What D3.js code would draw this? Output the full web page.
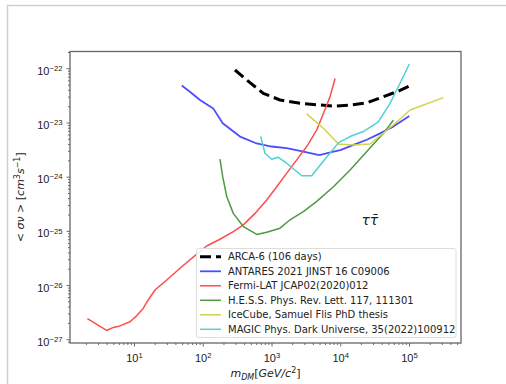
<!DOCTYPE html>
<html>
<head>
<meta charset="utf-8">
<script src="https://cdn.jsdelivr.net/npm/d3@7"></script>
<style>
  body { margin: 0; background: #fff; }
  svg { display: block; font-family: "DejaVu Sans", sans-serif; }
</style>
</head>
<body>
<div id="chart"></div>
<script>
// Limits on <σv> vs dark matter mass, tau-tau channel
const arcaMass = [294, 435, 760, 1330, 2600, 5070, 7950, 13900, 24300, 42400, 74000, 101000];
const arcaSigv = [9.3e-23, 6.1e-23, 3.45e-23, 2.6e-23, 2.26e-23, 2.1e-23, 2.0e-23, 2.1e-23, 2.3e-23, 3.0e-23, 3.9e-23, 4.7e-23];

const antaresMass = [49.5, 65, 91, 142, 195, 348, 610, 1000, 1660, 2600, 4950, 7950, 10000, 15600, 24300, 37900, 59100, 101000];
const antaresSigv = [4.8e-23, 3.7e-23, 2.6e-23, 1.82e-23, 9.7e-24, 5.5e-24, 4.1e-24, 3.6e-24, 3.35e-24, 3.0e-24, 2.5e-24, 2.9e-24, 3.1e-24, 3.85e-24, 4.8e-24, 6.3e-24, 8.4e-24, 1.32e-23];

const fermiMass = [2.1, 4.0, 5.0, 6.25, 8.75, 10.9, 13.6, 16.1, 20.2, 29.9, 46.7, 69, 114, 178, 278, 389, 575, 851, 1190, 1665, 2330, 3250, 4550, 5690, 7100, 8400];
const fermiSigv = [2.4e-27, 1.45e-27, 1.65e-27, 1.76e-27, 2.1e-27, 2.7e-27, 3.7e-27, 5.3e-27, 8.1e-27, 1.24e-26, 2.04e-26, 3.1e-26, 5.25e-26, 7.0e-26, 9.7e-26, 1.29e-25, 2.1e-25, 3.7e-25, 6.5e-25, 1.16e-24, 2.04e-24, 3.6e-24, 7.3e-24, 1.47e-23, 3.0e-23, 6.5e-23];

const hessMass = [178, 195, 223, 278, 389, 610, 851, 1330, 1860, 2900, 4550, 7950, 13900, 24300, 42400, 59100];
const hessSigv = [2.1e-24, 1.0e-24, 4.3e-25, 2.1e-25, 1.2e-25, 8.6e-26, 9.4e-26, 1.12e-25, 1.6e-25, 2.26e-25, 3.5e-25, 6.5e-25, 1.33e-24, 2.9e-24, 6.3e-24, 1.1e-23];

const icecubeMass = [3250, 5690, 9400, 15600, 27100, 59100, 103500, 316000];
const icecubeSigv = [1.44e-23, 7.8e-24, 4.0e-24, 3.85e-24, 4.0e-24, 9.0e-24, 1.7e-23, 2.87e-23];

const magicMass = [697, 804, 1006, 1256, 1665, 2750, 3845, 5375, 9370, 13870, 21660, 35740, 52960, 74000, 101000];
const magicSigv = [5.5e-24, 2.7e-24, 2.1e-24, 2.28e-24, 1.77e-24, 1.04e-24, 1.04e-24, 1.77e-24, 4.2e-24, 5.5e-24, 6.8e-24, 1.03e-23, 2.26e-23, 5.3e-23, 1.2e-22];

const seriesNames = [
  "ARCA-6 (106 days)",
  "ANTARES 2021 JINST 16 C09006",
  "Fermi-LAT JCAP02(2020)012",
  "H.E.S.S. Phys. Rev. Lett. 117, 111301",
  "IceCube, Samuel Flis PhD thesis",
  "MAGIC Phys. Dark Universe, 35(2022)100912"
];

const xTickExps = [1, 2, 3, 4, 5];
const yTickExps = [-22, -23, -24, -25, -26, -27];

const width = 506, height = 384;
const margin = { top: 51.5, right: 45, bottom: 41, left: 70 };

const svg = d3.select("#chart").append("svg")
  .attr("width", width)
  .attr("height", height);

// screenshot frame
svg.append("rect")
  .attr("x", 7.5).attr("y", 5.5)
  .attr("width", width).attr("height", height)
  .attr("fill", "#fff")
  .attr("stroke", "#d0d0d0")
  .attr("stroke-width", 1.5);

const x = d3.scaleLog()
  .domain([Math.pow(10, 0.069), Math.pow(10, 5.756)])
  .range([margin.left, width - margin.right]);
const y = d3.scaleLog()
  .domain([Math.pow(10, -27.07), Math.pow(10, -21.69)])
  .range([height - margin.bottom, margin.top]);

const clip = svg.append("clipPath").attr("id", "plotclip")
  .append("rect")
  .attr("x", margin.left).attr("y", margin.top)
  .attr("width", width - margin.left - margin.right)
  .attr("height", height - margin.top - margin.bottom);

// minor ticks
function minors(lo, hi) {
  const out = [];
  for (let e = lo; e <= hi; e++) {
    for (let m = 2; m <= 9; m++) out.push(m * Math.pow(10, e));
  }
  return out;
}
const xMinor = minors(0, 5).filter((v) => v > x.domain()[0] && v < x.domain()[1]);
const yMinor = minors(-28, -22).filter((v) => v > y.domain()[0] && v < y.domain()[1]);

const axisColor = "#444";

function styleAxis(sel) {
  sel.select(".domain").remove();
  sel.selectAll("line").attr("stroke", axisColor).attr("stroke-width", 0.8);
  sel.selectAll("text").attr("fill", "#222");
}

svg.append("g")
  .attr("transform", `translate(0,${height - margin.bottom})`)
  .call(d3.axisBottom(x).tickValues(xMinor).tickSize(2).tickFormat(""))
  .call(styleAxis);
svg.append("g")
  .attr("transform", `translate(${margin.left},0)`)
  .call(d3.axisLeft(y).tickValues(yMinor).tickSize(2).tickFormat(""))
  .call(styleAxis);

function powLabel(sel, base) {
  sel.selectAll(".tick text").each(function (d) {
    const t = d3.select(this);
    const e = Math.round(Math.log10(d));
    t.text(null);
    t.append("tspan").text("10");
    t.append("tspan")
      .attr("dy", "-0.5em")
      .attr("font-size", "0.7em")
      .text(e < 0 ? "\u2212" + Math.abs(e) : String(e));
  });
}

const xAxisG = svg.append("g")
  .attr("transform", `translate(0,${height - margin.bottom})`)
  .call(d3.axisBottom(x).tickValues(xTickExps.map((e) => Math.pow(10, e))).tickSize(3.5).tickPadding(4))
  .call(styleAxis)
  .call(powLabel);
xAxisG.selectAll("text").attr("font-size", 11).attr("dy", "1.0em");

const yAxisG = svg.append("g")
  .attr("transform", `translate(${margin.left},0)`)
  .call(d3.axisLeft(y).tickValues(yTickExps.map((e) => Math.pow(10, e))).tickSize(3.5).tickPadding(4))
  .call(styleAxis)
  .call(powLabel);
yAxisG.selectAll("text").attr("font-size", 11).attr("dy", "0.55em");

// plot frame
svg.append("rect")
  .attr("x", margin.left).attr("y", margin.top)
  .attr("width", width - margin.left - margin.right)
  .attr("height", height - margin.top - margin.bottom)
  .attr("fill", "none")
  .attr("stroke", "#666")
  .attr("stroke-width", 1.3);

// curves
const line = d3.line()
  .x((d) => x(d[0]))
  .y((d) => y(d[1]));

const series = [
  { mass: arcaMass, sigv: arcaSigv, color: "#000", width: 3, dash: "11,5" },
  { mass: antaresMass, sigv: antaresSigv, color: "#4d4dff", width: 1.8 },
  { mass: fermiMass, sigv: fermiSigv, color: "#ff4d4d", width: 1.5 },
  { mass: hessMass, sigv: hessSigv, color: "#4d9a40", width: 1.5 },
  { mass: icecubeMass, sigv: icecubeSigv, color: "#d2d24d", width: 1.5 },
  { mass: magicMass, sigv: magicSigv, color: "#4dd2d2", width: 1.5 }
];

const plot = svg.append("g").attr("clip-path", "url(#plotclip)");
// draw ARCA on top like the reference (first plotted dashed line sits under others? keep order)
series.forEach((s, i) => {
  plot.append("path")
    .datum(d3.zip(s.mass, s.sigv))
    .attr("fill", "none")
    .attr("stroke", s.color)
    .attr("stroke-width", s.width)
    .attr("stroke-dasharray", s.dash || null)
    .attr("stroke-linejoin", "round")
    .attr("d", line);
});

// channel label
svg.append("text")
  .attr("x", x(Math.pow(10, 4.43)))
  .attr("y", y(Math.pow(10, -24.9)))
  .attr("text-anchor", "middle")
  .attr("font-size", 14)
  .attr("font-style", "italic")
  .attr("fill", "#222")
  .text("\u03c4\u03c4\u0304");

// legend
const lg = svg.append("g");
lg.append("rect")
  .attr("x", 196.5).attr("y", 248.5)
  .attr("width", 259.5).attr("height", 89)
  .attr("rx", 2)
  .attr("fill", "#fff").attr("fill-opacity", 0.85)
  .attr("stroke", "#ddd");
series.forEach((s, i) => {
  const yy = 256.8 + i * 14.5;
  lg.append("line")
    .attr("x1", 200).attr("x2", 221)
    .attr("y1", yy).attr("y2", yy)
    .attr("stroke", s.color)
    .attr("stroke-width", s.width)
    .attr("stroke-dasharray", s.dash || null);
  lg.append("text")
    .attr("x", 228).attr("y", yy)
    .attr("dy", "0.35em")
    .attr("font-size", 10)
    .attr("fill", "#222")
    .text(seriesNames[i]);
});

// axis labels
const xl = svg.append("text")
  .attr("x", (margin.left + width - margin.right) / 2)
  .attr("y", 377)
  .attr("text-anchor", "middle")
  .attr("font-size", 11)
  .attr("fill", "#222");
xl.append("tspan").attr("font-style", "italic").text("m");
xl.append("tspan").attr("font-style", "italic").attr("font-size", 8).attr("dy", 2.5).text("DM");
xl.append("tspan").attr("dy", -2.5).text("[");
xl.append("tspan").attr("font-style", "italic").text("GeV/c");
xl.append("tspan").attr("font-size", 8).attr("dy", -4).text("2");
xl.append("tspan").attr("dy", 4).text("]");

const yl = svg.append("text")
  .attr("transform", `translate(24,${(margin.top + height - margin.bottom) / 2}) rotate(-90)`)
  .attr("text-anchor", "middle")
  .attr("font-size", 11)
  .attr("fill", "#222");
yl.append("tspan").text("< ");
yl.append("tspan").attr("font-style", "italic").text("\u03c3\u03bd");
yl.append("tspan").text(" > [");
yl.append("tspan").attr("font-style", "italic").text("cm");
yl.append("tspan").attr("font-size", 8).attr("dy", -4).text("3");
yl.append("tspan").attr("font-style", "italic").attr("dy", 4).text("s");
yl.append("tspan").attr("font-size", 8).attr("dy", -4).text("\u22121");
yl.append("tspan").attr("dy", 4).text("]");
</script>
</body>
</html>
